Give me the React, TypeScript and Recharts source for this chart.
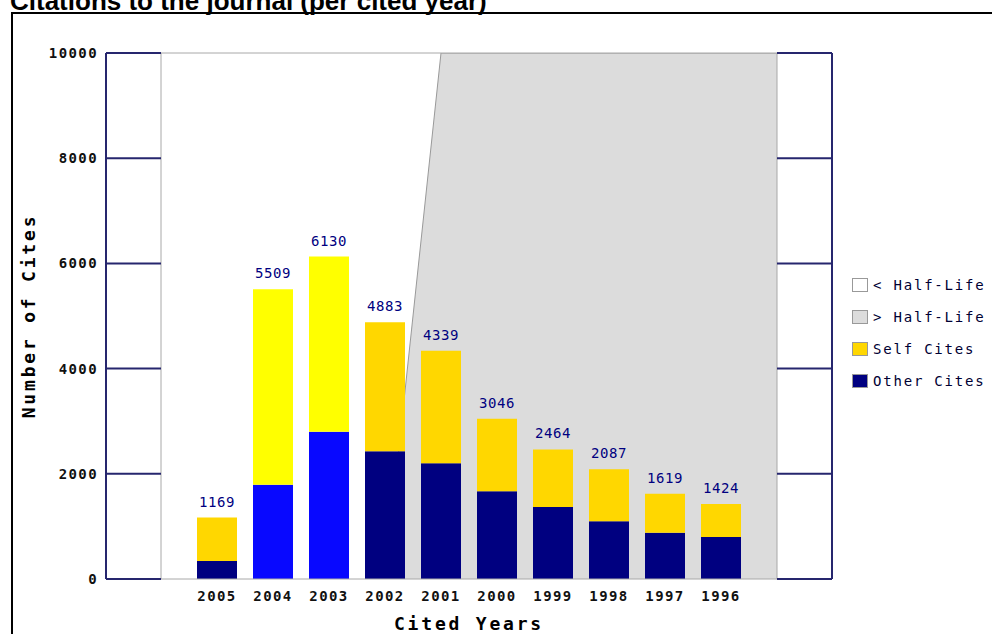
import React from "react";
import { ComposedChart, Bar, Area, XAxis, YAxis, ReferenceLine, Cell, LabelList } from "recharts";

const years = [2005, 2004, 2003, 2002, 2001, 2000, 1999, 1998, 1997, 1996];
const totalCites = [1169, 5509, 6130, 4883, 4339, 3046, 2464, 2087, 1619, 1424];
const otherCites = [340, 1790, 2800, 2430, 2200, 1670, 1370, 1100, 880, 800];
// years used for the impact factor, drawn in brighter colours
const impactYears = [2004, 2003];
const yTicks = [0, 2000, 4000, 6000, 8000, 10000];
// outline of the shaded "> Half-Life" area
const halfLifeYears = [2002, 2001, 1995];
const halfLifeCites = [0, 10000, 10000];
const legendLabels = ["< Half-Life", "> Half-Life", "Self Cites", "Other Cites"];

const NAVY = "#000080";
const GOLD = "#FFD700";
const BLUE = "#0808ff";
const YELLOW = "#FFFF00";
const LINE_NAVY = "#26266e";
const GREY_LINE = "#a8a8a8";
const SHADE = "#dcdcdc";
const mono = "'DejaVu Sans Mono', monospace";

const chartData = years.map((year, i) => ({
  year,
  other: otherCites[i],
  self: totalCites[i] - otherCites[i],
  total: totalCites[i],
}));

const halfLifeData = halfLifeYears.map((year, i) => ({ year, cites: halfLifeCites[i] }));

const legendFills = ["#ffffff", SHADE, GOLD, NAVY];

const tickStyle = { fontFamily: mono, fontSize: 14, fontWeight: "bold", fill: "#111", letterSpacing: 1.4 };

export default function App() {
  return (
    <div style={{ position: "fixed", left: 0, top: 0, width: 992, height: 634, overflow: "hidden", background: "#fff" }}>
      <svg width={992} height={40} style={{ position: "absolute", left: 0, top: 0 }}>
        <text x={10} y={10} fontFamily="'Liberation Sans', Arial, sans-serif" fontWeight="bold" fontSize={26} fill="#000">
          Citations to the journal (per cited year)
        </text>
      </svg>
      <div
        style={{
          position: "absolute",
          left: 11,
          top: 12,
          width: 1200,
          height: 1000,
          border: "2px solid #000",
        }}
      />
      <div style={{ position: "absolute", left: 0, top: 0 }}>
        <ComposedChart width={992} height={634} data={chartData} margin={{ top: 53, right: 0, bottom: 0, left: 0 }}>
          <Area
            data={halfLifeData}
            dataKey="cites"
            type="linear"
            stroke="#999"
            strokeWidth={1}
            fill={SHADE}
            fillOpacity={1}
            dot={false}
            activeDot={false}
            isAnimationActive={false}
          />
          <ReferenceLine y={10000} stroke={GREY_LINE} />
          <XAxis
            type="number"
            dataKey="year"
            domain={[1995, 2006]}
            allowDataOverflow
            reversed
            ticks={years}
            interval={0}
            height={55}
            tickSize={0}
            tickMargin={12}
            tickLine={false}
            axisLine={{ stroke: GREY_LINE }}
            tick={tickStyle}
            label={{
              content: (p: any) => (
                <text
                  x={p.viewBox.x + p.viewBox.width / 2}
                  y={630}
                  textAnchor="middle"
                  fontFamily={mono}
                  fontWeight="bold"
                  fontSize={18}
                  letterSpacing={2.8}
                  fill="#000"
                >
                  Cited Years
                </text>
              ),
            }}
          />
          <YAxis
            domain={[0, 10000]}
            allowDataOverflow
            ticks={yTicks}
            interval={0}
            width={55}
            tickSize={55}
            tickMargin={8}
            tickLine={{ stroke: LINE_NAVY, strokeWidth: 2 }}
            axisLine={{ stroke: GREY_LINE }}
            tick={tickStyle}
          />
          <YAxis
            yAxisId="outer"
            domain={[0, 10000]}
            allowDataOverflow
            width={106}
            tick={false}
            tickLine={false}
            axisLine={{ stroke: LINE_NAVY, strokeWidth: 2 }}
            label={{
              content: (p: any) => {
                const cx = p.viewBox.x + 35;
                const cy = p.viewBox.y + p.viewBox.height / 2;
                return (
                  <text
                    x={cx}
                    y={cy}
                    transform={`rotate(-90, ${cx}, ${cy})`}
                    textAnchor="middle"
                    fontFamily={mono}
                    fontWeight="bold"
                    fontSize={18}
                    letterSpacing={2.8}
                    fill="#000"
                  >
                    Number of Cites
                  </text>
                );
              },
            }}
          />
          <YAxis
            yAxisId="r"
            orientation="right"
            domain={[0, 10000]}
            allowDataOverflow
            ticks={yTicks}
            interval={0}
            width={55}
            tickSize={55}
            tick={() => <g />}
            tickLine={{ stroke: LINE_NAVY, strokeWidth: 2 }}
            axisLine={{ stroke: GREY_LINE }}
          />
          <YAxis
            yAxisId="rOuter"
            orientation="right"
            domain={[0, 10000]}
            allowDataOverflow
            width={160}
            tick={false}
            tickLine={false}
            axisLine={{ stroke: LINE_NAVY, strokeWidth: 2 }}
          />
          <Bar dataKey="other" stackId="a" barSize={40} isAnimationActive={false}>
            {chartData.map((d) => (
              <Cell key={d.year} fill={impactYears.includes(d.year) ? BLUE : NAVY} />
            ))}
          </Bar>
          <Bar dataKey="self" stackId="a" barSize={40} isAnimationActive={false}>
            {chartData.map((d) => (
              <Cell key={d.year} fill={impactYears.includes(d.year) ? YELLOW : GOLD} />
            ))}
            <LabelList
              dataKey="total"
              position="top"
              offset={11}
              fill={NAVY}
              fontFamily={mono}
              fontSize={14}
              letterSpacing={0.6}
            />
          </Bar>
        </ComposedChart>
      </div>
      <div style={{ position: "absolute", left: 852, top: 277, fontFamily: mono, fontSize: 14, color: "#000033" }}>
        {legendLabels.map((label, i) => (
          <div key={label} style={{ display: "flex", alignItems: "center", height: 16, marginBottom: 16 }}>
            <div
              style={{
                width: 16,
                height: 14,
                boxSizing: "border-box",
                border: "1px solid #999",
                background: legendFills[i],
              }}
            />
            <span style={{ marginLeft: 5, letterSpacing: 1.8, whiteSpace: "nowrap" }}>{label}</span>
          </div>
        ))}
      </div>
    </div>
  );
}
